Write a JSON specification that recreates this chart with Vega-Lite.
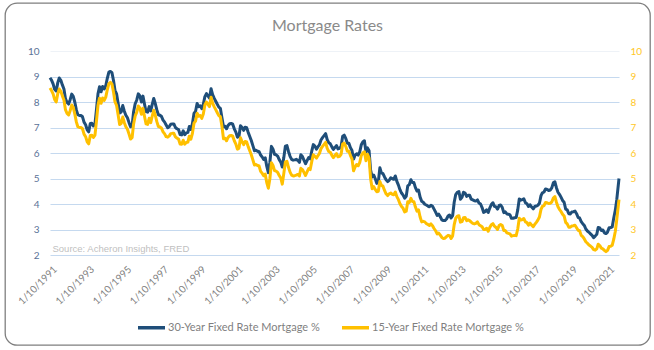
{
 "$schema": "https://vega.github.io/schema/vega-lite/v6.json",
 "width": 645,
 "height": 342,
 "autosize": {"type": "none"},
 "padding": {"left": 5, "top": 3, "right": 4, "bottom": 5},
 "background": "white",
 "title": {"text": "Mortgage Rates", "anchor": "middle", "frame": "group", "offset": -31, "font": "Lato", "fontSize": 16, "fontWeight": "normal", "color": "#8a8a8a"},
 "data": {"values": [
  {"d":"1991-09-01","a":8.95,"b":8.55},{"d":"1991-10-01","a":8.86,"b":8.45},{"d":"1991-11-01","a":8.71,"b":8.32},{"d":"1991-12-01","a":8.50,"b":8.10},
  {"d":"1992-01-01","a":8.43,"b":8.00},{"d":"1992-02-01","a":8.76,"b":8.33},{"d":"1992-03-01","a":8.94,"b":8.51},{"d":"1992-04-01","a":8.85,"b":8.42},{"d":"1992-05-01","a":8.67,"b":8.24},{"d":"1992-06-01","a":8.51,"b":8.08},{"d":"1992-07-01","a":8.13,"b":7.70},{"d":"1992-08-01","a":7.98,"b":7.55},{"d":"1992-09-01","a":7.92,"b":7.49},{"d":"1992-10-01","a":8.09,"b":7.66},{"d":"1992-11-01","a":8.31,"b":7.88},{"d":"1992-12-01","a":8.22,"b":7.79},
  {"d":"1993-01-01","a":7.99,"b":7.52},{"d":"1993-02-01","a":7.68,"b":7.21},{"d":"1993-03-01","a":7.50,"b":7.03},{"d":"1993-04-01","a":7.47,"b":7.00},{"d":"1993-05-01","a":7.47,"b":7.00},{"d":"1993-06-01","a":7.42,"b":6.95},{"d":"1993-07-01","a":7.21,"b":6.74},{"d":"1993-08-01","a":7.11,"b":6.64},{"d":"1993-09-01","a":6.91,"b":6.44},{"d":"1993-10-01","a":6.83,"b":6.36},{"d":"1993-11-01","a":7.16,"b":6.69},{"d":"1993-12-01","a":7.17,"b":6.70},
  {"d":"1994-01-01","a":7.06,"b":6.61},{"d":"1994-02-01","a":7.15,"b":6.70},{"d":"1994-03-01","a":7.68,"b":7.23},{"d":"1994-04-01","a":8.32,"b":7.87},{"d":"1994-05-01","a":8.60,"b":8.15},{"d":"1994-06-01","a":8.40,"b":7.95},{"d":"1994-07-01","a":8.61,"b":8.16},{"d":"1994-08-01","a":8.51,"b":8.06},{"d":"1994-09-01","a":8.64,"b":8.19},{"d":"1994-10-01","a":8.93,"b":8.48},{"d":"1994-11-01","a":9.17,"b":8.72},{"d":"1994-12-01","a":9.20,"b":8.77},
  {"d":"1995-01-01","a":9.15,"b":8.70},{"d":"1995-02-01","a":8.83,"b":8.38},{"d":"1995-03-01","a":8.46,"b":8.01},{"d":"1995-04-01","a":8.32,"b":7.87},{"d":"1995-05-01","a":7.96,"b":7.51},{"d":"1995-06-01","a":7.57,"b":7.12},{"d":"1995-07-01","a":7.61,"b":7.16},{"d":"1995-08-01","a":7.86,"b":7.41},{"d":"1995-09-01","a":7.64,"b":7.19},{"d":"1995-10-01","a":7.48,"b":7.03},{"d":"1995-11-01","a":7.38,"b":6.93},{"d":"1995-12-01","a":7.20,"b":6.75},
  {"d":"1996-01-01","a":7.03,"b":6.55},{"d":"1996-02-01","a":7.08,"b":6.60},{"d":"1996-03-01","a":7.62,"b":7.14},{"d":"1996-04-01","a":7.93,"b":7.45},{"d":"1996-05-01","a":8.07,"b":7.59},{"d":"1996-06-01","a":8.32,"b":7.84},{"d":"1996-07-01","a":8.25,"b":7.77},{"d":"1996-08-01","a":8.00,"b":7.52},{"d":"1996-09-01","a":8.23,"b":7.75},{"d":"1996-10-01","a":7.92,"b":7.44},{"d":"1996-11-01","a":7.62,"b":7.14},{"d":"1996-12-01","a":7.60,"b":7.12},
  {"d":"1997-01-01","a":7.82,"b":7.36},{"d":"1997-02-01","a":7.65,"b":7.19},{"d":"1997-03-01","a":7.90,"b":7.44},{"d":"1997-04-01","a":8.14,"b":7.68},{"d":"1997-05-01","a":7.94,"b":7.48},{"d":"1997-06-01","a":7.69,"b":7.23},{"d":"1997-07-01","a":7.50,"b":7.04},{"d":"1997-08-01","a":7.48,"b":7.02},{"d":"1997-09-01","a":7.43,"b":6.97},{"d":"1997-10-01","a":7.29,"b":6.83},{"d":"1997-11-01","a":7.21,"b":6.75},{"d":"1997-12-01","a":7.10,"b":6.64},
  {"d":"1998-01-01","a":6.99,"b":6.62},{"d":"1998-02-01","a":7.04,"b":6.67},{"d":"1998-03-01","a":7.13,"b":6.76},{"d":"1998-04-01","a":7.14,"b":6.77},{"d":"1998-05-01","a":7.14,"b":6.77},{"d":"1998-06-01","a":7.00,"b":6.63},{"d":"1998-07-01","a":6.95,"b":6.58},{"d":"1998-08-01","a":6.92,"b":6.55},{"d":"1998-09-01","a":6.72,"b":6.35},{"d":"1998-10-01","a":6.71,"b":6.34},{"d":"1998-11-01","a":6.87,"b":6.50},{"d":"1998-12-01","a":6.72,"b":6.35},
  {"d":"1999-01-01","a":6.79,"b":6.41},{"d":"1999-02-01","a":6.81,"b":6.43},{"d":"1999-03-01","a":7.04,"b":6.66},{"d":"1999-04-01","a":6.92,"b":6.54},{"d":"1999-05-01","a":7.15,"b":6.77},{"d":"1999-06-01","a":7.55,"b":7.17},{"d":"1999-07-01","a":7.63,"b":7.25},{"d":"1999-08-01","a":7.94,"b":7.56},{"d":"1999-09-01","a":7.82,"b":7.44},{"d":"1999-10-01","a":7.85,"b":7.47},{"d":"1999-11-01","a":7.74,"b":7.36},{"d":"1999-12-01","a":7.91,"b":7.53},
  {"d":"2000-01-01","a":8.21,"b":7.88},{"d":"2000-02-01","a":8.33,"b":8.00},{"d":"2000-03-01","a":8.24,"b":7.91},{"d":"2000-04-01","a":8.15,"b":7.82},{"d":"2000-05-01","a":8.52,"b":8.19},{"d":"2000-06-01","a":8.29,"b":7.96},{"d":"2000-07-01","a":8.15,"b":7.82},{"d":"2000-08-01","a":8.03,"b":7.70},{"d":"2000-09-01","a":7.91,"b":7.58},{"d":"2000-10-01","a":7.80,"b":7.47},{"d":"2000-11-01","a":7.75,"b":7.42},{"d":"2000-12-01","a":7.38,"b":7.05},
  {"d":"2001-01-01","a":7.03,"b":6.56},{"d":"2001-02-01","a":7.05,"b":6.58},{"d":"2001-03-01","a":6.95,"b":6.48},{"d":"2001-04-01","a":7.08,"b":6.61},{"d":"2001-05-01","a":7.15,"b":6.68},{"d":"2001-06-01","a":7.16,"b":6.69},{"d":"2001-07-01","a":7.13,"b":6.66},{"d":"2001-08-01","a":6.95,"b":6.48},{"d":"2001-09-01","a":6.82,"b":6.35},{"d":"2001-10-01","a":6.62,"b":6.15},{"d":"2001-11-01","a":6.66,"b":6.19},{"d":"2001-12-01","a":7.07,"b":6.60},
  {"d":"2002-01-01","a":7.00,"b":6.44},{"d":"2002-02-01","a":6.89,"b":6.33},{"d":"2002-03-01","a":7.01,"b":6.45},{"d":"2002-04-01","a":6.99,"b":6.43},{"d":"2002-05-01","a":6.81,"b":6.25},{"d":"2002-06-01","a":6.65,"b":6.09},{"d":"2002-07-01","a":6.49,"b":5.93},{"d":"2002-08-01","a":6.29,"b":5.73},{"d":"2002-09-01","a":6.09,"b":5.53},{"d":"2002-10-01","a":6.11,"b":5.55},{"d":"2002-11-01","a":6.07,"b":5.51},{"d":"2002-12-01","a":6.05,"b":5.49},
  {"d":"2003-01-01","a":5.92,"b":5.28},{"d":"2003-02-01","a":5.84,"b":5.20},{"d":"2003-03-01","a":5.75,"b":5.11},{"d":"2003-04-01","a":5.81,"b":5.17},{"d":"2003-05-01","a":5.48,"b":4.84},{"d":"2003-06-01","a":5.23,"b":4.62},{"d":"2003-07-01","a":5.63,"b":4.99},{"d":"2003-08-01","a":6.26,"b":5.62},{"d":"2003-09-01","a":6.15,"b":5.51},{"d":"2003-10-01","a":5.95,"b":5.31},{"d":"2003-11-01","a":5.93,"b":5.29},{"d":"2003-12-01","a":5.88,"b":5.24},
  {"d":"2004-01-01","a":5.74,"b":5.12},{"d":"2004-02-01","a":5.64,"b":5.02},{"d":"2004-03-01","a":5.45,"b":4.78},{"d":"2004-04-01","a":5.83,"b":5.21},{"d":"2004-05-01","a":6.27,"b":5.65},{"d":"2004-06-01","a":6.29,"b":5.67},{"d":"2004-07-01","a":6.06,"b":5.44},{"d":"2004-08-01","a":5.87,"b":5.25},{"d":"2004-09-01","a":5.75,"b":5.13},{"d":"2004-10-01","a":5.72,"b":5.10},{"d":"2004-11-01","a":5.73,"b":5.11},{"d":"2004-12-01","a":5.75,"b":5.13},
  {"d":"2005-01-01","a":5.71,"b":5.16},{"d":"2005-02-01","a":5.63,"b":5.10},{"d":"2005-03-01","a":5.93,"b":5.40},{"d":"2005-04-01","a":5.86,"b":5.35},{"d":"2005-05-01","a":5.72,"b":5.24},{"d":"2005-06-01","a":5.58,"b":5.12},{"d":"2005-07-01","a":5.70,"b":5.26},{"d":"2005-08-01","a":5.82,"b":5.39},{"d":"2005-09-01","a":5.77,"b":5.35},{"d":"2005-10-01","a":6.07,"b":5.66},{"d":"2005-11-01","a":6.33,"b":5.93},{"d":"2005-12-01","a":6.27,"b":5.87},
  {"d":"2006-01-01","a":6.15,"b":5.80},{"d":"2006-02-01","a":6.25,"b":5.90},{"d":"2006-03-01","a":6.32,"b":5.98},{"d":"2006-04-01","a":6.51,"b":6.17},{"d":"2006-05-01","a":6.60,"b":6.26},{"d":"2006-06-01","a":6.68,"b":6.34},{"d":"2006-07-01","a":6.76,"b":6.42},{"d":"2006-08-01","a":6.52,"b":6.18},{"d":"2006-09-01","a":6.40,"b":6.06},{"d":"2006-10-01","a":6.36,"b":6.03},{"d":"2006-11-01","a":6.24,"b":5.91},{"d":"2006-12-01","a":6.14,"b":5.82},
  {"d":"2007-01-01","a":6.22,"b":5.91},{"d":"2007-02-01","a":6.29,"b":5.98},{"d":"2007-03-01","a":6.16,"b":5.85},{"d":"2007-04-01","a":6.18,"b":5.87},{"d":"2007-05-01","a":6.26,"b":5.95},{"d":"2007-06-01","a":6.66,"b":6.35},{"d":"2007-07-01","a":6.70,"b":6.39},{"d":"2007-08-01","a":6.57,"b":6.26},{"d":"2007-09-01","a":6.38,"b":6.07},{"d":"2007-10-01","a":6.38,"b":6.07},{"d":"2007-11-01","a":6.21,"b":5.90},{"d":"2007-12-01","a":6.10,"b":5.77},
  {"d":"2008-01-01","a":5.76,"b":5.30},{"d":"2008-02-01","a":5.92,"b":5.45},{"d":"2008-03-01","a":5.97,"b":5.55},{"d":"2008-04-01","a":5.92,"b":5.50},{"d":"2008-05-01","a":6.04,"b":5.62},{"d":"2008-06-01","a":6.32,"b":5.90},{"d":"2008-07-01","a":6.43,"b":6.00},{"d":"2008-08-01","a":6.48,"b":6.05},{"d":"2008-09-01","a":6.04,"b":5.70},{"d":"2008-10-01","a":6.20,"b":5.95},{"d":"2008-11-01","a":6.09,"b":5.80},{"d":"2008-12-01","a":5.33,"b":5.00},
  {"d":"2009-01-01","a":5.06,"b":4.60},{"d":"2009-02-01","a":5.13,"b":4.68},{"d":"2009-03-01","a":5.00,"b":4.57},{"d":"2009-04-01","a":4.81,"b":4.48},{"d":"2009-05-01","a":4.86,"b":4.50},{"d":"2009-06-01","a":5.42,"b":4.88},{"d":"2009-07-01","a":5.22,"b":4.73},{"d":"2009-08-01","a":5.19,"b":4.70},{"d":"2009-09-01","a":5.06,"b":4.53},{"d":"2009-10-01","a":4.95,"b":4.40},{"d":"2009-11-01","a":4.88,"b":4.33},{"d":"2009-12-01","a":4.93,"b":4.40},
  {"d":"2010-01-01","a":5.03,"b":4.43},{"d":"2010-02-01","a":4.99,"b":4.38},{"d":"2010-03-01","a":4.97,"b":4.36},{"d":"2010-04-01","a":5.10,"b":4.47},{"d":"2010-05-01","a":4.89,"b":4.29},{"d":"2010-06-01","a":4.74,"b":4.17},{"d":"2010-07-01","a":4.56,"b":4.01},{"d":"2010-08-01","a":4.43,"b":3.90},{"d":"2010-09-01","a":4.35,"b":3.83},{"d":"2010-10-01","a":4.23,"b":3.69},{"d":"2010-11-01","a":4.30,"b":3.72},{"d":"2010-12-01","a":4.71,"b":4.09},
  {"d":"2011-01-01","a":4.76,"b":4.06},{"d":"2011-02-01","a":4.95,"b":4.22},{"d":"2011-03-01","a":4.84,"b":4.10},{"d":"2011-04-01","a":4.84,"b":4.09},{"d":"2011-05-01","a":4.64,"b":3.88},{"d":"2011-06-01","a":4.51,"b":3.72},{"d":"2011-07-01","a":4.55,"b":3.77},{"d":"2011-08-01","a":4.27,"b":3.49},{"d":"2011-09-01","a":4.11,"b":3.30},{"d":"2011-10-01","a":4.07,"b":3.32},{"d":"2011-11-01","a":3.99,"b":3.30},{"d":"2011-12-01","a":3.96,"b":3.23},
  {"d":"2012-01-01","a":3.92,"b":3.20},{"d":"2012-02-01","a":3.89,"b":3.16},{"d":"2012-03-01","a":3.95,"b":3.22},{"d":"2012-04-01","a":3.91,"b":3.15},{"d":"2012-05-01","a":3.80,"b":3.04},{"d":"2012-06-01","a":3.68,"b":2.95},{"d":"2012-07-01","a":3.55,"b":2.83},{"d":"2012-08-01","a":3.60,"b":2.86},{"d":"2012-09-01","a":3.50,"b":2.78},{"d":"2012-10-01","a":3.38,"b":2.69},{"d":"2012-11-01","a":3.35,"b":2.65},{"d":"2012-12-01","a":3.35,"b":2.66},
  {"d":"2013-01-01","a":3.41,"b":2.72},{"d":"2013-02-01","a":3.53,"b":2.77},{"d":"2013-03-01","a":3.57,"b":2.76},{"d":"2013-04-01","a":3.45,"b":2.65},{"d":"2013-05-01","a":3.54,"b":2.75},{"d":"2013-06-01","a":4.07,"b":3.19},{"d":"2013-07-01","a":4.37,"b":3.44},{"d":"2013-08-01","a":4.46,"b":3.52},{"d":"2013-09-01","a":4.49,"b":3.54},{"d":"2013-10-01","a":4.19,"b":3.29},{"d":"2013-11-01","a":4.26,"b":3.31},{"d":"2013-12-01","a":4.46,"b":3.46},
  {"d":"2014-01-01","a":4.43,"b":3.47},{"d":"2014-02-01","a":4.30,"b":3.35},{"d":"2014-03-01","a":4.34,"b":3.38},{"d":"2014-04-01","a":4.34,"b":3.35},{"d":"2014-05-01","a":4.19,"b":3.29},{"d":"2014-06-01","a":4.16,"b":3.24},{"d":"2014-07-01","a":4.13,"b":3.22},{"d":"2014-08-01","a":4.12,"b":3.24},{"d":"2014-09-01","a":4.16,"b":3.30},{"d":"2014-10-01","a":4.04,"b":3.19},{"d":"2014-11-01","a":4.00,"b":3.15},{"d":"2014-12-01","a":3.86,"b":3.11},
  {"d":"2015-01-01","a":3.67,"b":3.00},{"d":"2015-02-01","a":3.71,"b":3.00},{"d":"2015-03-01","a":3.77,"b":3.05},{"d":"2015-04-01","a":3.67,"b":2.93},{"d":"2015-05-01","a":3.84,"b":3.08},{"d":"2015-06-01","a":3.98,"b":3.19},{"d":"2015-07-01","a":4.05,"b":3.23},{"d":"2015-08-01","a":3.91,"b":3.13},{"d":"2015-09-01","a":3.89,"b":3.08},{"d":"2015-10-01","a":3.80,"b":3.00},{"d":"2015-11-01","a":3.94,"b":3.16},{"d":"2015-12-01","a":3.96,"b":3.20},
  {"d":"2016-01-01","a":3.87,"b":3.16},{"d":"2016-02-01","a":3.66,"b":2.96},{"d":"2016-03-01","a":3.69,"b":2.96},{"d":"2016-04-01","a":3.61,"b":2.87},{"d":"2016-05-01","a":3.60,"b":2.85},{"d":"2016-06-01","a":3.57,"b":2.83},{"d":"2016-07-01","a":3.44,"b":2.74},{"d":"2016-08-01","a":3.44,"b":2.76},{"d":"2016-09-01","a":3.46,"b":2.77},{"d":"2016-10-01","a":3.47,"b":2.76},{"d":"2016-11-01","a":3.77,"b":3.02},{"d":"2016-12-01","a":4.20,"b":3.44},
  {"d":"2017-01-01","a":4.15,"b":3.37},{"d":"2017-02-01","a":4.17,"b":3.39},{"d":"2017-03-01","a":4.20,"b":3.43},{"d":"2017-04-01","a":4.05,"b":3.30},{"d":"2017-05-01","a":4.01,"b":3.27},{"d":"2017-06-01","a":3.90,"b":3.17},{"d":"2017-07-01","a":3.97,"b":3.25},{"d":"2017-08-01","a":3.88,"b":3.17},{"d":"2017-09-01","a":3.81,"b":3.11},{"d":"2017-10-01","a":3.90,"b":3.20},{"d":"2017-11-01","a":3.92,"b":3.28},{"d":"2017-12-01","a":3.95,"b":3.37},
  {"d":"2018-01-01","a":4.03,"b":3.49},{"d":"2018-02-01","a":4.33,"b":3.79},{"d":"2018-03-01","a":4.44,"b":3.91},{"d":"2018-04-01","a":4.47,"b":3.94},{"d":"2018-05-01","a":4.59,"b":4.06},{"d":"2018-06-01","a":4.57,"b":4.05},{"d":"2018-07-01","a":4.53,"b":4.02},{"d":"2018-08-01","a":4.55,"b":4.03},{"d":"2018-09-01","a":4.63,"b":4.08},{"d":"2018-10-01","a":4.83,"b":4.23},{"d":"2018-11-01","a":4.87,"b":4.29},{"d":"2018-12-01","a":4.64,"b":4.07},
  {"d":"2019-01-01","a":4.46,"b":3.89},{"d":"2019-02-01","a":4.37,"b":3.78},{"d":"2019-03-01","a":4.27,"b":3.71},{"d":"2019-04-01","a":4.14,"b":3.60},{"d":"2019-05-01","a":4.07,"b":3.53},{"d":"2019-06-01","a":3.80,"b":3.28},{"d":"2019-07-01","a":3.77,"b":3.22},{"d":"2019-08-01","a":3.62,"b":3.09},{"d":"2019-09-01","a":3.61,"b":3.09},{"d":"2019-10-01","a":3.69,"b":3.14},{"d":"2019-11-01","a":3.70,"b":3.15},{"d":"2019-12-01","a":3.72,"b":3.17},
  {"d":"2020-01-01","a":3.62,"b":3.07},{"d":"2020-02-01","a":3.47,"b":2.97},{"d":"2020-03-01","a":3.45,"b":2.95},{"d":"2020-04-01","a":3.31,"b":2.77},{"d":"2020-05-01","a":3.23,"b":2.72},{"d":"2020-06-01","a":3.16,"b":2.63},{"d":"2020-07-01","a":3.02,"b":2.52},{"d":"2020-08-01","a":2.94,"b":2.46},{"d":"2020-09-01","a":2.89,"b":2.39},{"d":"2020-10-01","a":2.83,"b":2.35},{"d":"2020-11-01","a":2.77,"b":2.30},{"d":"2020-12-01","a":2.68,"b":2.21},
  {"d":"2021-01-01","a":2.74,"b":2.19},{"d":"2021-02-01","a":2.81,"b":2.24},{"d":"2021-03-01","a":3.08,"b":2.42},{"d":"2021-04-01","a":3.06,"b":2.37},{"d":"2021-05-01","a":2.96,"b":2.27},{"d":"2021-06-01","a":2.98,"b":2.24},{"d":"2021-07-01","a":2.87,"b":2.18},{"d":"2021-08-01","a":2.84,"b":2.13},{"d":"2021-09-01","a":2.90,"b":2.18},{"d":"2021-10-01","a":3.07,"b":2.33},{"d":"2021-11-01","a":3.07,"b":2.34},{"d":"2021-12-01","a":3.10,"b":2.38},
  {"d":"2022-01-01","a":3.45,"b":2.62},{"d":"2022-02-01","a":3.76,"b":2.93},{"d":"2022-03-01","a":4.17,"b":3.39},{"d":"2022-04-14","a":5.00,"b":4.17}
 ]},
 "encoding": {
  "x": {"field": "d", "type": "temporal",
   "scale": {"type": "utc", "range": [45, 614]},
   "axis": {"orient": "bottom", "offset": -90,
    "values": [{"year":1991,"month":10,"date":1,"utc":true},{"year":1993,"month":10,"date":1,"utc":true},{"year":1995,"month":10,"date":1,"utc":true},{"year":1997,"month":10,"date":1,"utc":true},{"year":1999,"month":10,"date":1,"utc":true},{"year":2001,"month":10,"date":1,"utc":true},{"year":2003,"month":10,"date":1,"utc":true},{"year":2005,"month":10,"date":1,"utc":true},{"year":2007,"month":10,"date":1,"utc":true},{"year":2009,"month":10,"date":1,"utc":true},{"year":2011,"month":10,"date":1,"utc":true},{"year":2013,"month":10,"date":1,"utc":true},{"year":2015,"month":10,"date":1,"utc":true},{"year":2017,"month":10,"date":1,"utc":true},{"year":2019,"month":10,"date":1,"utc":true},{"year":2021,"month":10,"date":1,"utc":true}],
    "format": "%-d/%m/%Y", "labelAngle": -45, "labelPadding": 9, "labelColor": "#7f7f7f", "labelFontSize": 10,
    "labelOverlap": false, "grid": false,
    "title": "Source: Acheron Insights, FRED", "titleX": 47, "titleY": -4, "titleAlign": "left", "titleAnchor": "start",
    "titleBaseline": "alphabetic", "titleFont": "Liberation Sans", "titleFontSize": 9.5, "titleFontWeight": "normal", "titleColor": "#bfbfbf"}
  }
 },
 "layer": [
  {"mark": {"type": "line", "strokeWidth": 3, "strokeJoin": "round"},
   "encoding": {
    "y": {"field": "a", "type": "quantitative",
     "scale": {"domain": [2, 10], "range": [252, 48], "nice": false, "zero": false},
     "axis": {"orient": "left", "offset": -36, "values": [2,3,4,5,6,7,8,9,10], "grid": true,
      "gridColor": {"condition": {"test": "datum.value === 10", "value": "#eef2f7"}, "value": "#c5d9ef"},
      "labelColor": "#5a7297", "labelPadding": 2, "labelFontSize": 10, "title": null}},
    "color": {"datum": "30-Year Fixed Rate Mortgage %", "type": "nominal",
     "scale": {"domain": ["30-Year Fixed Rate Mortgage %", "15-Year Fixed Rate Mortgage %"], "range": ["#1f4e79", "#ffc000"]},
     "legend": {"orient": "none", "legendX": 131, "legendY": 309, "direction": "horizontal", "title": null,
      "symbolType": "stroke", "symbolSize": 729, "symbolStrokeWidth": 3.5, "labelFont": "Lato", "labelFontSize": 11,
      "labelColor": "#7f7f7f", "labelOffset": 1, "columnPadding": 15, "labelLimit": 300}}
   }},
  {"mark": {"type": "line", "strokeWidth": 3, "strokeJoin": "round"},
   "encoding": {
    "y": {"field": "b", "type": "quantitative",
     "axis": {"orient": "right", "offset": -22, "values": [2,3,4,5,6,7,8,9,10], "grid": false,
      "labelColor": "#ffc727", "labelPadding": 2, "labelFontSize": 10, "title": null}},
    "color": {"datum": "15-Year Fixed Rate Mortgage %", "type": "nominal"}
   }}
 ],
 "resolve": {"axis": {"y": "independent"}},
 "config": {
  "view": {"stroke": "#7f7f7f", "strokeWidth": 1.3, "cornerRadius": 12, "fill": "white"},
  "axis": {"labelFont": "Lato", "ticks": false, "domain": false}
 }
}
